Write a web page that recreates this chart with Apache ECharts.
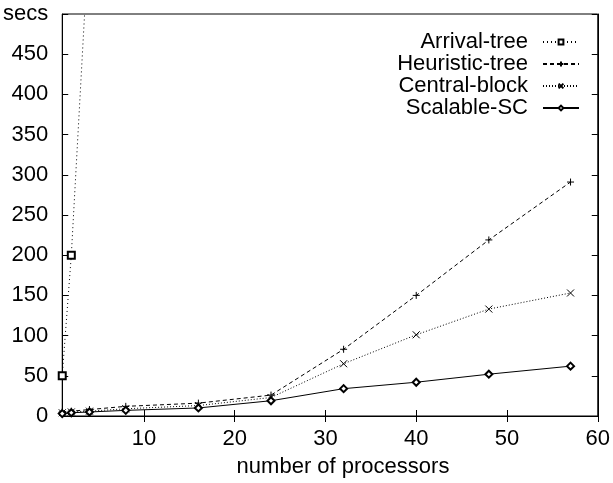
<!DOCTYPE html>
<html>
<head>
<meta charset="utf-8">
<script src="https://cdn.jsdelivr.net/npm/echarts@6/dist/echarts.min.js"></script>
<style>html,body{margin:0;padding:0;background:#fff}#c{width:613px;height:483px}</style>
</head>
<body>
<div id="c"></div>
<script>
const processors = [1, 2, 4, 8, 16, 24, 32, 40, 48, 57];
const arrivalProcessors = [1, 2, 4];
const arrivalTree = [50, 200, 610];
const heuristicTree = [5, 6, 8, 12, 16, 26, 83, 150, 219, 291];
const centralBlock = [4, 5, 6, 9, 13, 23, 65, 101, 133, 153];
const scalableSC = [3, 4, 5, 7, 10, 19, 34, 42, 52, 62];
const xTicks = [10, 20, 30, 40, 50, 60];
const seriesNames = ['Arrival-tree', 'Heuristic-tree', 'Central-block', 'Scalable-SC'];

const FONT = '"Liberation Sans", Arial, sans-serif';
const pairs = (xs, ys) => xs.map((x, i) => [x, ys[i]]);

const chart = echarts.init(document.getElementById('c'), null, {renderer: 'canvas'});
const baseAxisX = {
  type: 'value', min: 1, max: 60,
  axisLine: {show: true, lineStyle: {color: '#000', width: 1}},
  splitLine: {show: false}
};
const baseAxisY = {
  type: 'value', min: 0, max: 500, interval: 50,
  axisLine: {show: true, lineStyle: {color: '#000', width: 1}},
  splitLine: {show: false}
};
chart.setOption({
  animation: false,
  backgroundColor: '#fff',
  grid: {left: 62, right: 15, top: 14, bottom: 65, show: true, borderColor: '#000', borderWidth: 1},
  xAxis: [
    Object.assign({}, baseAxisX, {
      position: 'bottom',
      name: 'number of processors', nameLocation: 'middle', nameGap: 40,
      nameTextStyle: {fontSize: 22, fontFamily: FONT, color: '#000', padding: [0, 0, 0, 26]},
      axisTick: {show: true, inside: true, length: 6, customValues: xTicks, lineStyle: {color: '#000'}},
      axisLabel: {show: true, customValues: xTicks, fontSize: 22, fontFamily: FONT, color: '#000', margin: 12}
    }),
    Object.assign({}, baseAxisX, {
      position: 'top',
      axisTick: {show: true, inside: true, length: 6, customValues: xTicks, lineStyle: {color: '#000'}},
      axisLabel: {show: false}
    })
  ],
  yAxis: [
    Object.assign({}, baseAxisY, {
      position: 'left',
      axisTick: {show: true, inside: true, length: 6, lineStyle: {color: '#000'}},
      axisLabel: {show: true, fontSize: 22, fontFamily: FONT, color: '#000', margin: 14,
        formatter: v => (v === 500 ? 'secs' : String(v))}
    }),
    Object.assign({}, baseAxisY, {
      position: 'right',
      axisTick: {show: true, inside: true, length: 6, lineStyle: {color: '#000'}},
      axisLabel: {show: false}
    })
  ],
  legend: {
    orient: 'vertical', right: 28, top: 26, align: 'right',
    itemWidth: 36, itemHeight: 6, itemGap: 0,
    textStyle: {fontSize: 22, fontFamily: FONT, color: '#000', lineHeight: 22, padding: [0, 10, 0, 0]},
    data: seriesNames
  },
  series: [
    {
      name: seriesNames[0], type: 'line', data: pairs(arrivalProcessors, arrivalTree),
      symbol: 'emptyRect', symbolSize: 7, clip: true,
      lineStyle: {color: '#000', width: 1, type: [1, 3]},
      itemStyle: {color: '#000', borderColor: '#000', borderWidth: 1}
    },
    {
      name: seriesNames[1], type: 'line', data: pairs(processors, heuristicTree),
      symbol: 'path://M0,5L10,5M5,0L5,10', symbolSize: 7, clip: true,
      lineStyle: {color: '#000', width: 1, type: [4, 3]},
      itemStyle: {color: '#000', borderColor: '#000', borderWidth: 1}
    },
    {
      name: seriesNames[2], type: 'line', data: pairs(processors, centralBlock),
      symbol: 'path://M0,0L10,10M10,0L0,10', symbolSize: 7, clip: true,
      lineStyle: {color: '#000', width: 1, type: [1, 2]},
      itemStyle: {color: '#000', borderColor: '#000', borderWidth: 1}
    },
    {
      name: seriesNames[3], type: 'line', data: pairs(processors, scalableSC),
      symbol: 'emptyDiamond', symbolSize: 7, clip: true,
      lineStyle: {color: '#000', width: 1, type: 'solid'},
      itemStyle: {color: '#000', borderColor: '#000', borderWidth: 1}
    }
  ]
});
</script>
</body>
</html>
